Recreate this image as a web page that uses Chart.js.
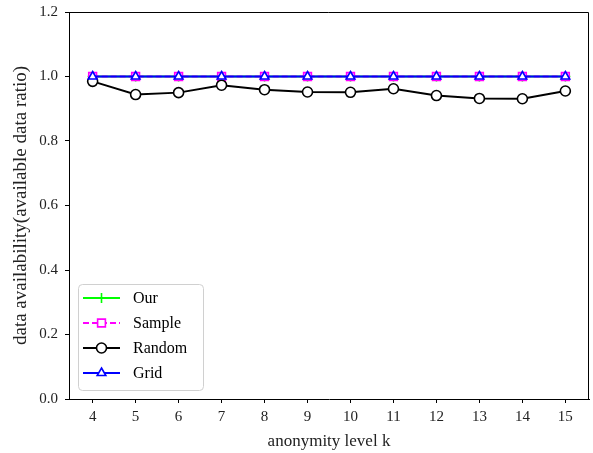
<!DOCTYPE html>
<html>
<head>
<meta charset="utf-8">
<script src="https://cdn.jsdelivr.net/npm/chart.js@4.4.1/dist/chart.umd.min.js"></script>
<style>
  html, body { margin: 0; padding: 0; background: #fff; }
  #wrap { width: 593px; height: 453px; }
</style>
</head>
<body>
<div id="wrap"><canvas id="c" width="593" height="453"></canvas></div>
<script>
'use strict';

// anonymity level k
const kLevels = [4, 5, 6, 7, 8, 9, 10, 11, 12, 13, 14, 15];
const yTicks = [0, 0.2, 0.4, 0.6, 0.8, 1.0, 1.2];

const ourValues    = [1, 1, 1, 1, 1, 1, 1, 1, 1, 1, 1, 1];
const sampleValues = [1, 1, 1, 1, 1, 1, 1, 1, 1, 1, 1, 1];
const randomValues = [0.985, 0.944, 0.950, 0.973, 0.959, 0.952, 0.951, 0.962, 0.941, 0.932, 0.931, 0.955];
const gridValues   = [1, 1, 1, 1, 1, 1, 1, 1, 1, 1, 1, 1];

const FONT = '"Liberation Serif", "DejaVu Serif", serif';

function toPoints(values) {
    return kLevels.map((k, i) => ({ x: k, y: values[i] }));
}

function series(label, values, color, style, extra) {
    return Object.assign({
        label,
        data: toPoints(values),
        borderColor: color,
        borderWidth: 2,
        pointStyle: style,
        pointRadius: 5,
        pointBorderColor: color,
        pointBackgroundColor: '#fff',
        pointBorderWidth: 1.6,
        pointHoverRadius: 5,
        tension: 0,
        fill: false,
    }, extra || {});
}

function noScalePadding(scale) {
    scale.paddingTop = 0;
    scale.paddingBottom = 0;
    scale.paddingLeft = 0;
    scale.paddingRight = 0;
}

// matplotlib-style box and legend in the lower-left corner
const frameAndLegend = {
    id: 'frameAndLegend',
    afterDatasetsDraw(chart) {
        const ctx = chart.ctx;
        const a = chart.chartArea;
        ctx.save();
        ctx.strokeStyle = '#000';
        ctx.lineWidth = 1;
        ctx.beginPath();
        ctx.moveTo(a.left, a.top + 0.5);
        ctx.lineTo(a.right - 0.5, a.top + 0.5);
        ctx.lineTo(a.right - 0.5, a.bottom);
        ctx.stroke();

        const sets = chart.data.datasets;
        const rowH = 25;
        const boxW = 125;
        const boxH = 106;
        const bx = a.left + 9;
        const by = a.bottom - 9 - boxH;

        ctx.fillStyle = 'rgba(255,255,255,0.8)';
        ctx.strokeStyle = '#d0d0d0';
        ctx.lineWidth = 1;
        ctx.beginPath();
        ctx.roundRect(bx + 0.5, by + 0.5, boxW, boxH, 4);
        ctx.fill();
        ctx.stroke();

        ctx.font = '16px ' + FONT;
        ctx.textBaseline = 'middle';
        sets.forEach((ds, i) => {
            const y = by + 14 + i * rowH;
            const x0 = bx + 5;
            const x1 = bx + 42;
            ctx.save();
            ctx.strokeStyle = ds.borderColor;
            ctx.lineWidth = ds.borderWidth;
            ctx.setLineDash(ds.borderDash || []);
            ctx.beginPath();
            ctx.moveTo(x0, y);
            ctx.lineTo(x1, y);
            ctx.stroke();
            ctx.restore();

            ctx.save();
            ctx.strokeStyle = ds.pointBorderColor;
            ctx.fillStyle = ds.pointBackgroundColor;
            ctx.lineWidth = ds.pointBorderWidth;
            Chart.helpers.drawPoint(ctx, {
                pointStyle: ds.pointStyle,
                radius: ds.pointRadius,
                borderWidth: ds.pointBorderWidth,
                rotation: 0,
            }, (x0 + x1) / 2, y);
            ctx.restore();

            ctx.fillStyle = '#000';
            ctx.fillText(ds.label, bx + 55, y + 1);
        });
        ctx.restore();
    }
};

new Chart(document.getElementById('c'), {
    type: 'line',
    data: {
        datasets: [
            series('Our', ourValues, '#00ff00', 'cross', { order: 4 }),
            series('Sample', sampleValues, '#ff00ff', 'rect', { borderDash: [6, 3], pointRadius: 5.5, order: 3 }),
            series('Random', randomValues, '#000000', 'circle', { order: 2 }),
            series('Grid', gridValues, '#0000ff', 'triangle', { order: 1 }),
        ]
    },
    options: {
        responsive: false,
        animation: false,
        events: [],
        layout: { autoPadding: false, padding: { top: 12, right: 4, left: 10, bottom: 0 } },
        plugins: {
            legend: { display: false },
            tooltip: { enabled: false },
        },
        scales: {
            x: {
                type: 'linear',
                min: 3.45,
                max: 15.55,
                afterBuildTicks: scale => { scale.ticks = kLevels.map(v => ({ value: v })); },
                afterFit: scale => { scale.height = 54; noScalePadding(scale); },
                grid: { drawOnChartArea: false, drawTicks: true, tickLength: 4, color: '#000' },
                border: { display: true, color: '#000', width: 1 },
                ticks: { color: '#222', font: { family: FONT, size: 15 }, padding: 5, maxRotation: 0 },
                title: {
                    display: true,
                    text: 'anonymity level k',
                    color: '#222',
                    font: { family: FONT, size: 17 },
                    padding: { top: 0, bottom: 1 },
                },
            },
            y: {
                min: 0,
                max: 1.2,
                afterBuildTicks: scale => { scale.ticks = yTicks.map(v => ({ value: v })); },
                afterFit: scale => { scale.width = 59; noScalePadding(scale); },
                grid: { drawOnChartArea: false, drawTicks: true, tickLength: 4, color: '#000' },
                border: { display: true, color: '#000', width: 1 },
                ticks: {
                    color: '#222',
                    font: { family: FONT, size: 15 },
                    padding: 7,
                    callback: v => Number(v).toFixed(1),
                },
                title: {
                    display: true,
                    text: 'data availability(available data ratio)',
                    color: '#222',
                    font: { family: FONT, size: 19 },
                    padding: { top: 0, bottom: 2 },
                },
            },
        },
    },
    plugins: [frameAndLegend],
});
</script>
</body>
</html>
